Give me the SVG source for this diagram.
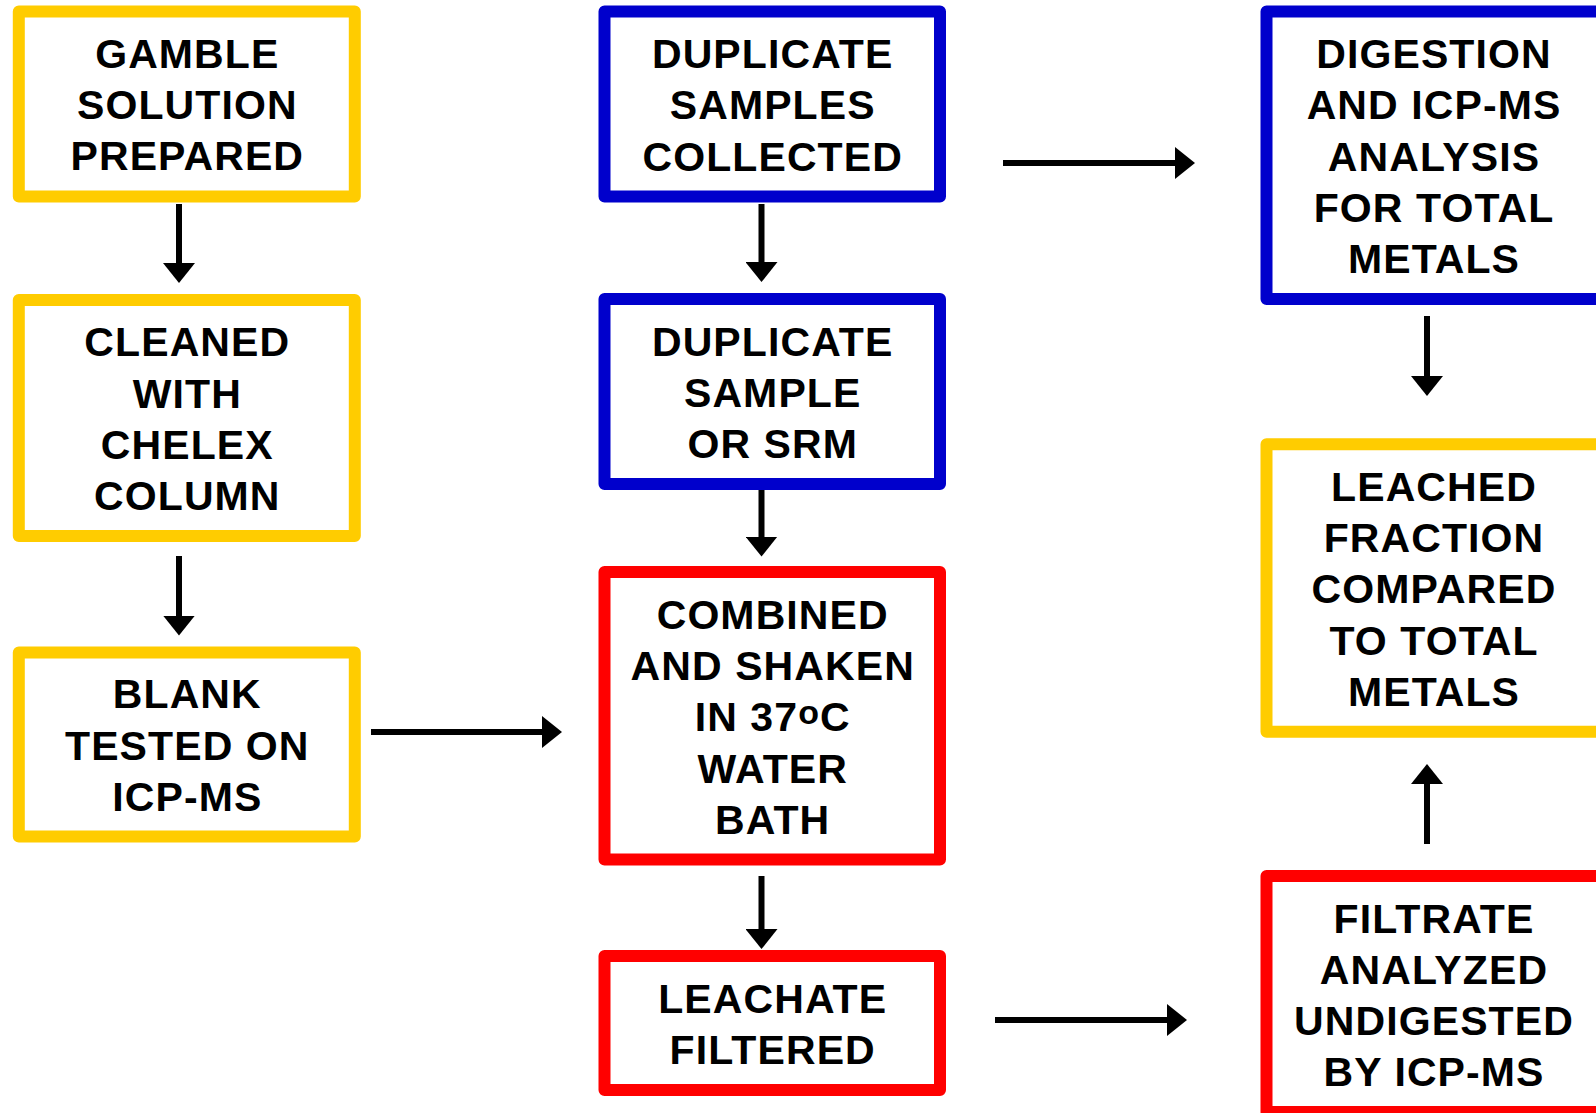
<svg xmlns="http://www.w3.org/2000/svg" width="1596" height="1113" viewBox="0 0 1596 1113">
<style>
.box{fill:#FFFFFF;stroke-width:12;stroke-linejoin:round}
.y{stroke:#FFCC00}
.b{stroke:#0000CC}
.r{stroke:#FF0000}
.t{font-family:"Liberation Sans",Arial,Helvetica,sans-serif;font-weight:bold;font-size:41px;letter-spacing:1.1px;fill:#000000;text-anchor:middle}
.c{stroke:#000000;stroke-width:6;fill:none;marker-end:url(#ah)}
</style>
<defs>
<marker id="ah" viewBox="0 0 20 32" refX="12" refY="16" markerWidth="20" markerHeight="32" markerUnits="userSpaceOnUse" orient="auto">
<path d="M0,0 L20,16 L0,32 Z" fill="#000000"/>
</marker>
</defs>
<rect width="1596" height="1113" fill="#FFFFFF"/>
<g id="connectors">
<line class="c" x1="179" y1="204" x2="179" y2="275"/>
<line class="c" x1="179" y1="556" x2="179" y2="627.5"/>
<line class="c" x1="371" y1="732" x2="554" y2="732"/>
<line class="c" x1="761.5" y1="204" x2="761.5" y2="274"/>
<line class="c" x1="761.5" y1="486" x2="761.5" y2="548.5"/>
<line class="c" x1="761.5" y1="876" x2="761.5" y2="941"/>
<line class="c" x1="1003" y1="163" x2="1187" y2="163"/>
<line class="c" x1="995" y1="1020" x2="1179" y2="1020"/>
<line class="c" x1="1427" y1="316" x2="1427" y2="388"/>
<line class="c" x1="1427" y1="844" x2="1427" y2="772"/>
</g>
<g id="n-gamble">
<rect class="box y" x="18.8" y="11.5" width="336" height="185"/>
<text class="t"><tspan x="187.3" y="67.6">GAMBLE</tspan><tspan x="187.3" y="118.9">SOLUTION</tspan><tspan x="187.3" y="170.2">PREPARED</tspan></text>
</g>
<g id="n-cleaned">
<rect class="box y" x="18.8" y="300" width="336" height="236"/>
<text class="t"><tspan x="187.3" y="356.2">CLEANED</tspan><tspan x="187.3" y="407.5">WITH</tspan><tspan x="187.3" y="458.8">CHELEX</tspan><tspan x="187.3" y="510.1">COLUMN</tspan></text>
</g>
<g id="n-blank">
<rect class="box y" x="18.8" y="652.5" width="336" height="184"/>
<text class="t"><tspan x="187.3" y="708.2">BLANK</tspan><tspan x="187.3" y="759.5">TESTED ON</tspan><tspan x="187.3" y="810.8">ICP-MS</tspan></text>
</g>
<g id="n-dup-collected">
<rect class="box b" x="604.5" y="11.5" width="335.5" height="185"/>
<text class="t"><tspan x="772.7" y="68">DUPLICATE</tspan><tspan x="772.7" y="119.3">SAMPLES</tspan><tspan x="772.7" y="170.6">COLLECTED</tspan></text>
</g>
<g id="n-dup-srm">
<rect class="box b" x="604.5" y="299" width="335.5" height="185"/>
<text class="t"><tspan x="772.7" y="355.5">DUPLICATE</tspan><tspan x="772.7" y="406.8">SAMPLE</tspan><tspan x="772.7" y="458.1">OR SRM</tspan></text>
</g>
<g id="n-combined">
<rect class="box r" x="604.5" y="572" width="335.5" height="287.5"/>
<text class="t"><tspan x="772.7" y="628.6">COMBINED</tspan><tspan x="772.7" y="679.9">AND SHAKEN</tspan><tspan x="772.7" y="731.2">IN 37<tspan font-size="34" dy="-7">o</tspan><tspan dy="7">C</tspan></tspan><tspan x="772.7" y="782.5">WATER</tspan><tspan x="772.7" y="833.8">BATH</tspan></text>
</g>
<g id="n-leachate">
<rect class="box r" x="604.5" y="956" width="335.5" height="134"/>
<text class="t"><tspan x="772.7" y="1012.6">LEACHATE</tspan><tspan x="772.7" y="1063.6">FILTERED</tspan></text>
</g>
<g id="n-digestion">
<rect class="box b" x="1266.5" y="11.5" width="345" height="287.5"/>
<text class="t"><tspan x="1434" y="68">DIGESTION</tspan><tspan x="1434" y="119.3">AND ICP-MS</tspan><tspan x="1434" y="170.6">ANALYSIS</tspan><tspan x="1434" y="221.9">FOR TOTAL</tspan><tspan x="1434" y="273.2">METALS</tspan></text>
</g>
<g id="n-leached">
<rect class="box y" x="1266.5" y="444.2" width="345" height="287.5"/>
<text class="t"><tspan x="1434" y="500.8">LEACHED</tspan><tspan x="1434" y="552.1">FRACTION</tspan><tspan x="1434" y="603.4">COMPARED</tspan><tspan x="1434" y="654.7">TO TOTAL</tspan><tspan x="1434" y="706">METALS</tspan></text>
</g>
<g id="n-filtrate">
<rect class="box r" x="1266.5" y="876" width="345" height="236"/>
<text class="t"><tspan x="1434" y="932.5">FILTRATE</tspan><tspan x="1434" y="983.8">ANALYZED</tspan><tspan x="1434" y="1035.1">UNDIGESTED</tspan><tspan x="1434" y="1086.4">BY ICP-MS</tspan></text>
</g>
</svg>
